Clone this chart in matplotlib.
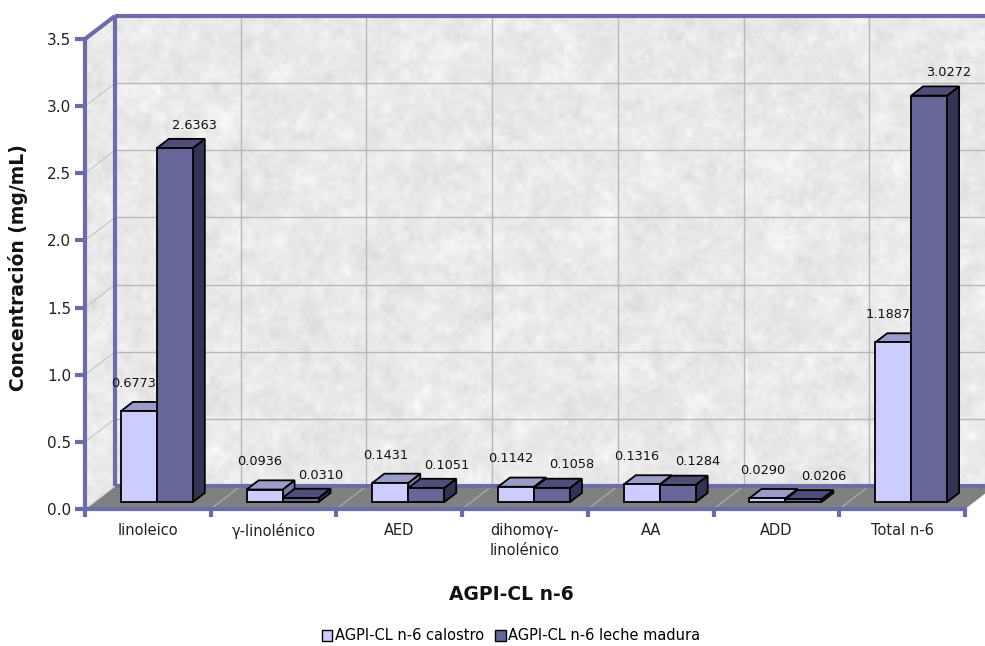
import numpy as np
import matplotlib
matplotlib.use("Agg")
import matplotlib.pyplot as plt
from matplotlib.patches import Polygon, Patch

categories = ["linoleico", "γ-linolénico", "AED", "dihomoγ-\nlinolénico", "AA", "ADD", "Total n-6"]
calostro = [0.6773, 0.0936, 0.1431, 0.1142, 0.1316, 0.0290, 1.1887]
leche_madura = [2.6363, 0.0310, 0.1051, 0.1058, 0.1284, 0.0206, 3.0272]
series_names = ["AGPI-CL n-6 calostro", "AGPI-CL n-6 leche madura"]
yticks = [0.0, 0.5, 1.0, 1.5, 2.0, 2.5, 3.0, 3.5]

plt.rcParams['font.family'] = ['DejaVu Sans']
PURPLE = '#6C6CA8'
fronts = ['#CCCCFF', '#666699']
tops = ['#9C9CCB', '#4E4E78']
sides = ['#7A7AA8', '#333355']

fig = plt.figure(figsize=(9.85, 6.46), dpi=100)
W, H = 985, 646
ax = fig.add_axes([85 / W, 137 / H, 880 / W, 470 / H])
n = len(categories)
ax.set_xlim(-0.5, n - 0.5)
ax.set_ylim(0, 3.5)
ax.set_facecolor('none')

# depth offset (30 px right, 23 px up) expressed in data units
ddx = 30 / (880 / n)
ddy = 23 / (470 / 3.5)


def p(x, y, d):
    return (x + d * ddx, y + d * ddy)


def face(pts, z, **kw):
    ax.add_patch(Polygon(pts, closed=True, clip_on=False, zorder=z, joinstyle='miter', **kw))


def line(a, b, z, **kw):
    ax.plot([a[0], b[0]], [a[1], b[1]], clip_on=False, zorder=z, solid_capstyle='butt', **kw)


x0, x1 = -0.5, n - 0.5

# textured walls (back + left side)
def upsample(a, shape):
    r = np.linspace(0, a.shape[0] - 1, shape[0])
    c = np.linspace(0, a.shape[1] - 1, shape[1])
    tmp = np.array([np.interp(c, np.arange(a.shape[1]), row) for row in a])
    return np.array([np.interp(r, np.arange(a.shape[0]), col) for col in tmp.T]).T

rng = np.random.default_rng(11)
shape = (500, 940)
tex = (0.35 * upsample(rng.normal(size=(20, 38)), shape)
       + 0.55 * upsample(rng.normal(size=(50, 95)), shape)
       + 0.5 * upsample(rng.normal(size=(110, 210)), shape)
       + 0.15 * rng.normal(size=shape))
tex = np.clip(0.915 + 0.028 * tex, 0, 1)
wall = Polygon([p(x0, 0, 0), p(x0, 0, 1), p(x1 + 0.5, 0, 1), p(x1 + 0.5, 3.5, 1),
                p(x0, 3.5, 1), p(x0, 3.5, 0)], closed=True, transform=ax.transData)
im = ax.imshow(tex, cmap='gray', vmin=0, vmax=1, interpolation='bilinear', aspect='auto',
               extent=(x0, x1 + ddx + 0.3, 0, 3.5 + ddy), zorder=0.1)
im.set_clip_box(fig.bbox)
im.set_clip_path(wall)

# gridlines on walls
for v in yticks[1:-1]:
    line(p(x0, v, 1), p(x1 + 0.5, v, 1), 0.3, color='#B8B8B8', lw=1)
    line(p(x0, v, 0), p(x0, v, 1), 0.3, color='#C4C4C4', lw=0.8)
for k in range(1, n):
    line(p(k - 0.5, 0, 1), p(k - 0.5, 3.5, 1), 0.3, color='#B8B8B8', lw=1)

# floor
face([p(x0, 0, 0), p(x1, 0, 0), p(x1, 0, 1), p(x0, 0, 1)], 0.4, fc='#808080', ec='none')
for k in range(1, n):
    line(p(k - 0.5, 0, 0.05), p(k - 0.5, 0, 0.95), 0.45, color='#A8A8A8', lw=1)
line(p(x0, 0, 0), p(x0, 0, 1), 0.45, color='#D8D8D8', lw=1)

# wall borders
lw_b = 3
line(p(x0, 0, 1), p(x1 + 0.5, 0, 1), 0.5, color=PURPLE, lw=lw_b)
line(p(x0, 0, 1), p(x0, 3.5, 1), 0.5, color=PURPLE, lw=lw_b)
line(p(x0, 3.5, 1), p(x1 + 0.5, 3.5, 1), 0.5, color=PURPLE, lw=lw_b)
line(p(x0, 3.5, 0), p(x0, 3.5, 1), 0.5, color=PURPLE, lw=lw_b)

# 3D bars
bw = 0.286
d0, d1 = 0.3, 0.7
label_off = [(-3.6, 20), (14.4, 16.5)]
z = 3
for i in range(n):
    for s, vals in enumerate([calostro, leche_madura]):
        h = vals[i]
        a = i - bw + s * bw
        b = a + bw
        kw = dict(ec='black', lw=1.3)
        face([p(b, 0, d0), p(b, 0, d1), p(b, h, d1), p(b, h, d0)], z, fc=sides[s], **kw)
        face([p(a, h, d0), p(b, h, d0), p(b, h, d1), p(a, h, d1)], z, fc=tops[s], **kw)
        face([p(a, 0, d0), p(b, 0, d0), p(b, h, d0), p(a, h, d0)], z, fc=fronts[s], **kw)
        z += 0.1
        ax.annotate(f"{h:.4f}", xy=p((a + b) / 2, h, d0), xytext=label_off[s],
                    textcoords='offset points', ha='center', va='center',
                    fontsize=9.3, color='#111111', zorder=20, annotation_clip=False)

# axes: spines and ticks
for sp in ['top', 'right']:
    ax.spines[sp].set_visible(False)
for sp in ['left', 'bottom']:
    ax.spines[sp].set_color(PURPLE)
    ax.spines[sp].set_linewidth(3)
    ax.spines[sp].set_zorder(2)
ax.set_yticks(yticks)
ax.set_yticklabels([f"{v:.1f}" for v in yticks])
ax.tick_params(axis='y', direction='out', length=7, width=3, color=PURPLE, pad=3,
               labelsize=11, labelcolor='#222222')
ax.set_xticks(np.arange(n + 1) - 0.5)
ax.set_xticklabels([])
ax.set_xticks(np.arange(n), minor=True)
ax.set_xticklabels(categories, minor=True)
ax.tick_params(axis='x', which='major', direction='out', length=6, width=3, color=PURPLE)
ax.tick_params(axis='x', which='minor', length=0, pad=10, labelsize=10.5, labelcolor='#222222')
for t in ax.get_xticklabels(minor=True):
    t.set_linespacing(1.45)

fig.text(18 / W, 1 - 268 / H, "Concentración (mg/mL)", rotation=90, ha='center', va='center',
         fontsize=13.5, fontweight='bold', color='#111111')
fig.text(511 / W, 1 - 594 / H, "AGPI-CL n-6", ha='center', va='center',
         fontsize=13.5, fontweight='bold', color='#111111')

handles = [Patch(fc=fronts[s], ec='black', lw=1) for s in range(2)]
fig.legend(handles, series_names, loc='center', bbox_to_anchor=(511 / W, 1 - 636 / H),
           ncol=2, frameon=False, fontsize=10.5, handlelength=0.7, handleheight=0.7,
           handletextpad=0.15, columnspacing=0.8)

fig.savefig("out.png", dpi=100)
